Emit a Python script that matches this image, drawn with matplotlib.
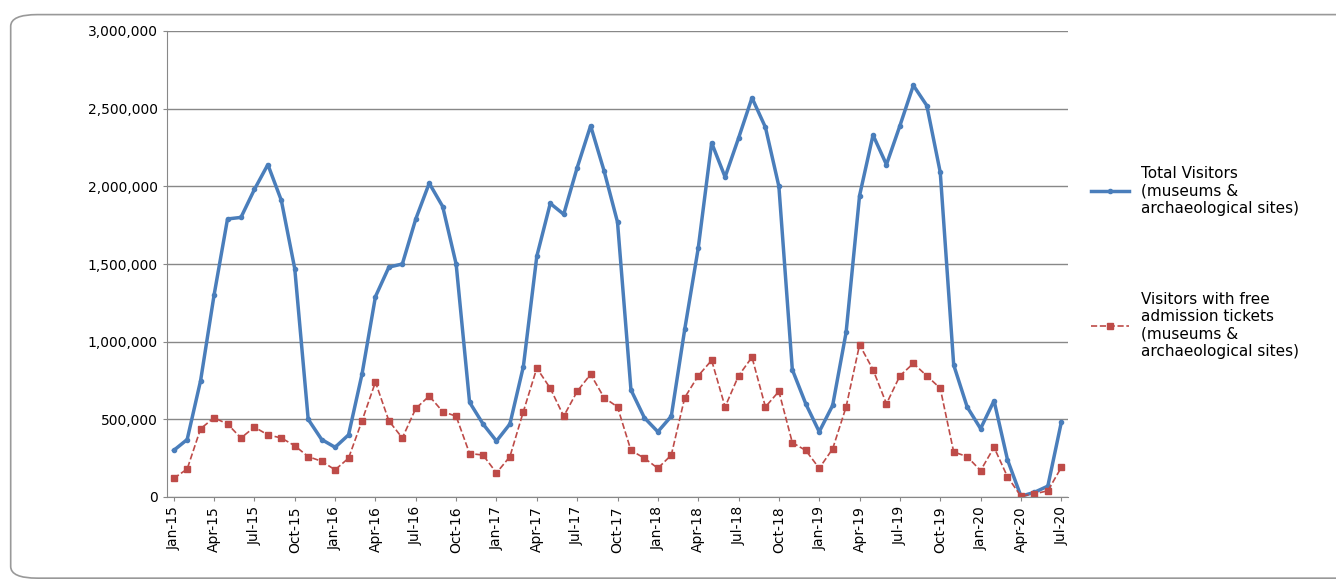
import matplotlib.pyplot as plt
from matplotlib.patches import FancyBboxPatch

# monthly values, Jan-15 .. Jul-20 (thousands)
total_k = [300, 370, 750, 1300, 1790, 1800, 1980, 2140, 1910, 1470, 500, 370,
           320, 400, 790, 1290, 1480, 1500, 1790, 2020, 1870, 1500, 610, 470,
           360, 470, 840, 1550, 1890, 1820, 2120, 2390, 2100, 1770, 690, 510,
           420, 520, 1080, 1600, 2280, 2060, 2310, 2570, 2380, 2000, 820, 600,
           420, 590, 1060, 1940, 2330, 2140, 2390, 2650, 2520, 2090, 850, 580,
           440, 620, 240, 5, 30, 70, 480]
free_k = [120, 180, 440, 510, 470, 380, 450, 400, 380, 330, 260, 230,
          175, 250, 490, 740, 490, 380, 570, 650, 550, 520, 280, 270,
          155, 260, 550, 830, 700, 520, 680, 790, 640, 580, 300, 250,
          185, 270, 640, 780, 880, 580, 780, 900, 580, 680, 350, 300,
          185, 310, 580, 980, 820, 600, 780, 860, 780, 700, 290, 260,
          170, 320, 130, 5, 20, 40, 190]
months = ["Jan", "Feb", "Mar", "Apr", "May", "Jun", "Jul", "Aug", "Sep", "Oct", "Nov", "Dec"]
labels = [f"{months[i % 12]}-{15 + i // 12}" for i in range(len(total_k))]

total = [v * 1000 for v in total_k]
free = [v * 1000 for v in free_k]
x = list(range(len(total)))

fig = plt.figure(figsize=(13.36, 5.84), dpi=100)
fig.patches.append(FancyBboxPatch((0.008, 0.01), 1.1, 0.965, boxstyle="round,pad=0,rounding_size=0.02",
                                  transform=fig.transFigure, fill=False, edgecolor="#999999", linewidth=1.2))
ax = fig.add_axes([167 / 1336, 87 / 584, 901 / 1336, 466 / 584])

ax.plot(x, total, color="#4a7ebb", lw=2.5, marker="o", ms=3,
        label="Total Visitors\n(museums &\narchaeological sites)")
ax.plot(x, free, color="#be4b48", lw=1.2, ls="--", marker="s", ms=4,
        label="Visitors with free\nadmission tickets\n(museums &\narchaeological sites)")

ax.set_ylim(0, 3000000)
ax.set_xlim(-0.5, len(x) - 0.5)
ax.set_yticks(range(0, 3000001, 500000))
ax.set_yticklabels([f"{v:,}" for v in range(0, 3000001, 500000)], fontsize=10)
ax.set_xticks(x[::3])
ax.set_xticklabels(labels[::3], rotation=90, fontsize=10)
ax.grid(axis="y", color="#888888", lw=1)
ax.set_axisbelow(True)
for s in ["top", "right"]:
    ax.spines[s].set_visible(False)
ax.spines["left"].set_color("#888888")
ax.spines["bottom"].set_color("#888888")
ax.tick_params(length=3, color="#888888")

ax.legend(loc="upper left", bbox_to_anchor=(1.01, 0.74), frameon=False, fontsize=11,
          handlelength=2.5, labelspacing=5.0)

fig.savefig("out.png", dpi=100)
